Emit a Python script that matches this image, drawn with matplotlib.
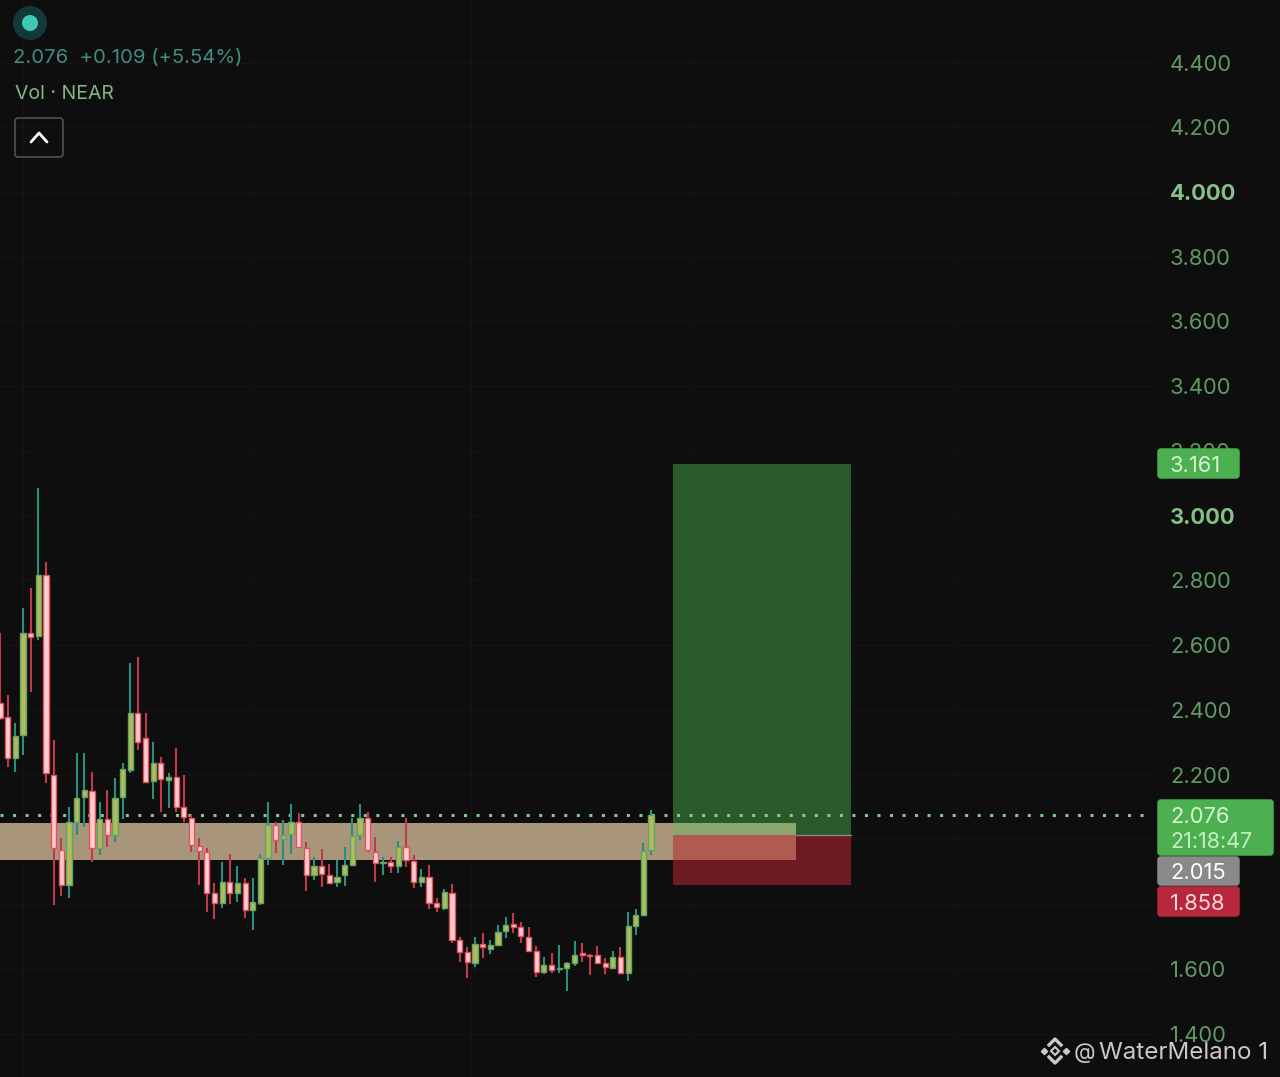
import matplotlib
matplotlib.use("Agg")
import matplotlib.pyplot as plt
from matplotlib.patches import Rectangle, FancyBboxPatch, Circle

opens = [2.422,2.378,2.252,2.323,2.638,2.629,2.817,2.199,1.968,1.859,2.054,2.131,2.150,1.974,2.063,2.014,2.131,2.215,2.391,2.314,
         2.181,2.236,2.184,2.193,2.100,2.066,1.980,1.961,1.835,1.804,1.869,1.835,1.866,1.782,1.804,1.943,2.045,2.001,2.017,2.054,
         1.974,1.890,1.918,1.890,1.869,1.890,1.921,2.014,2.066,1.961,1.927,1.930,1.918,1.977,1.934,1.869,1.884,1.804,1.788,1.835,
         1.689,1.652,1.618,1.677,1.662,1.674,1.717,1.739,1.730,1.699,1.655,1.591,1.612,1.600,1.603,1.618,1.649,1.643,1.643,1.618,
         1.603,1.637,1.587,1.733,1.767,1.967]
highs = [2.638,2.446,2.360,2.715,2.777,3.086,2.857,2.307,2.005,2.100,2.267,2.267,2.209,2.116,2.153,2.190,2.236,2.545,2.564,2.391,
         2.301,2.255,2.205,2.283,2.199,2.076,2.005,1.974,1.866,1.930,1.955,1.918,1.881,1.881,1.955,2.116,2.054,2.060,2.110,2.082,
         1.992,1.946,1.971,1.924,1.937,1.977,2.066,2.110,2.085,2.008,1.946,1.946,1.995,2.066,1.952,1.909,1.921,1.819,1.847,1.862,
         1.699,1.668,1.699,1.711,1.689,1.736,1.760,1.773,1.745,1.730,1.671,1.637,1.649,1.674,1.621,1.686,1.680,1.646,1.671,1.634,
         1.655,1.668,1.776,1.785,1.989,2.091]
lows = [2.369,2.224,2.209,2.261,2.456,2.616,2.175,1.798,1.825,1.819,2.014,2.039,1.930,1.952,1.977,1.992,2.063,2.205,2.277,2.175,
        2.125,2.085,2.097,2.085,2.054,1.961,1.859,1.776,1.754,1.788,1.801,1.807,1.757,1.720,1.798,1.921,1.958,1.921,1.955,1.974,
        1.841,1.875,1.853,1.862,1.853,1.856,1.918,1.998,1.961,1.869,1.890,1.896,1.896,1.915,1.850,1.853,1.785,1.776,1.782,1.680,
        1.621,1.572,1.606,1.634,1.646,1.671,1.696,1.711,1.680,1.652,1.575,1.584,1.587,1.587,1.532,1.609,1.621,1.581,1.615,1.584,
        1.600,1.584,1.563,1.705,1.764,1.952]
closes = [2.375,2.252,2.320,2.638,2.626,2.817,2.205,1.974,1.859,2.054,2.128,2.153,1.974,2.063,2.014,2.128,2.218,2.391,2.301,2.178,
          2.236,2.187,2.193,2.100,2.069,1.983,1.964,1.835,1.804,1.869,1.835,1.866,1.782,1.807,1.943,2.045,1.998,2.014,2.054,1.977,
          1.890,1.918,1.893,1.866,1.884,1.921,2.011,2.066,1.968,1.927,1.930,1.918,1.977,1.937,1.869,1.884,1.804,1.791,1.838,1.689,
          1.652,1.621,1.677,1.668,1.674,1.714,1.736,1.730,1.702,1.655,1.591,1.612,1.597,1.603,1.618,1.643,1.643,1.640,1.618,1.606,
          1.637,1.587,1.733,1.767,1.964,2.076]

tick_values = [4.4,4.2,4.0,3.8,3.6,3.4,3.2,3.0,2.8,2.6,2.4,2.2,1.6,1.4]
bold_ticks = [4.0,3.0]
grid_bars = [3, 32.6, 61.5, 90.5, 125]

last_price = 2.076
take_profit = 3.161
entry = 2.015
stop = 1.858
zone_top, zone_bottom = 2.051, 1.937
zone_end_bar = 103.9
box_start_bar, box_end_bar = 87.9, 111.1

BG = "#0e0e0f"
W, H = 1280, 1077
BAR_PX = 7.66
plt.rcParams["font.family"] = ["Inter", "DejaVu Sans"]

fig = plt.figure(figsize=(W/100, H/100), dpi=100, facecolor=BG)
ax = fig.add_axes([0, 0, 1, 1], facecolor=BG)
ax.set_xlim(0, W/BAR_PX)
ax.set_ylim(4 - (H-192)/323.7, 4 + 192/323.7)
ax.axis("off")

# grid
grid_right = 1155/BAR_PX
for t in tick_values + [2.0, 1.8]:
    ax.plot([0, grid_right], [t, t], color="#1a1113", lw=0.9, zorder=1)
for b in grid_bars:
    ax.axvline(b, color="#191113", lw=0.9, zorder=1)

# position box
ax.add_patch(Rectangle((box_start_bar, entry), box_end_bar-box_start_bar, take_profit-entry, fc="#2a5a2b", ec="none", zorder=2))
ax.add_patch(Rectangle((box_start_bar, stop), box_end_bar-box_start_bar, entry-stop, fc="#6e1a22", ec="none", zorder=2))
ax.plot([box_start_bar, box_end_bar], [entry, entry], color="#8f8f80", lw=0.9, zorder=2.1)

# zone
ax.add_patch(Rectangle((0, zone_bottom), box_start_bar, zone_top-zone_bottom, fc="#a8957a", ec="none", zorder=3))
ax.add_patch(Rectangle((box_start_bar, entry), zone_end_bar-box_start_bar, zone_top-entry, fc="#8aa66c", ec="none", zorder=3))
ax.add_patch(Rectangle((box_start_bar, zone_bottom), zone_end_bar-box_start_bar, entry-zone_bottom, fc="#b05a52", ec="none", zorder=3))

# last price line
ax.plot([0, 1152/BAR_PX], [last_price, last_price], color="#86c98a", lw=2.2,
        ls=(0, (1, 3.1)), dash_capstyle="butt", zorder=4)

# candles
for i, (o, h, l, c) in enumerate(zip(opens, highs, lows, closes)):
    up = c >= o
    ax.vlines(i, l, h, color="#2b8f7c" if up else "#c03a4a", lw=1.5, zorder=5)
    ax.bar(i, abs(c-o), bottom=min(o, c), width=0.68,
           color="#b4b95a" if up else "#ffccd0",
           edgecolor="#5aa867" if up else "#e4515f", linewidth=1.0, zorder=6)

# overlay in pixel coordinates for the interface pieces
ui = fig.add_axes([0, 0, 1, 1], facecolor="none")
ui.set_xlim(0, W); ui.set_ylim(H, 0); ui.axis("off")
FS = 15.8
DY = 2

def price_y(p):
    return 192 + (4-p)*323.7

for t in tick_values:
    bold = t in bold_ticks
    ui.text(1170, price_y(t)+DY, f"{t:.3f}", color="#85c087" if bold else "#5e9a62",
            fontsize=FS, fontweight="bold" if bold else "normal", va="center", ha="left", zorder=2)

def tag(x0, x1, y0, y1, color):
    ui.add_patch(FancyBboxPatch((x0+2, y0+2), x1-x0-4, y1-y0-4, boxstyle="round,pad=0,rounding_size=2",
                                mutation_aspect=1, fc=color, ec=color, lw=2.5, zorder=3))

tag(1157, 1240, 448, 479, "#4caf50")
ui.text(1170, 463.5+DY, f"{take_profit:.3f}", color="#d6f5d2", fontsize=FS, va="center", zorder=4)
tag(1157, 1240, 856, 886, "#8a8a8a")
ui.text(1170, 871+DY, f"{entry:.3f}", color="#ffffff", fontsize=FS, va="center", zorder=4)
tag(1157, 1240, 886, 917, "#b8283c")
ui.text(1170, 902+DY, f"{stop:.3f}", color="#ffd9dc", fontsize=FS, va="center", zorder=4)
tag(1157, 1274, 799, 856, "#4caf50")
ui.text(1170, 815+DY, f"{last_price:.3f}", color="#d6f5d2", fontsize=FS, va="center", zorder=5)
ui.text(1170, 840+DY, "21:18:47", color="#c6efc2", fontsize=FS*0.98, va="center", zorder=5)

# header
ui.add_patch(Circle((30, 23), 17, fc="#12393a", ec="none"))
ui.add_patch(Circle((30, 23), 8, fc="#3fc9b2", ec="none"))
ui.text(13, 58, "2.076  +0.109 (+5.54%)", color="#3f8d7c", fontsize=14.6, va="center")
ui.text(15, 94, "Vol · NEAR", color="#84b884", fontsize=14.0, va="center")
ui.add_patch(FancyBboxPatch((15, 118), 48, 39, boxstyle="round,pad=0,rounding_size=3",
                            fc="none", ec="#4f4f4f", lw=1.2))
ui.plot([31, 39, 47], [142, 133, 142], color="#ffffff", lw=2.0, solid_capstyle="round")

# watermark
wm = "#c9c9c9"
ui.plot([1044, 1055, 1066], [1051, 1051, 1051], ls="none", marker="D", ms=3.2, color=wm, zorder=6)
ui.plot([1055], [1051], ls="none", marker="D", ms=4.5, mfc=BG, mec=wm, mew=1.5, zorder=6)
ui.plot([1049, 1055, 1061], [1045, 1039, 1045], color=wm, lw=2.4, zorder=6)
ui.plot([1049, 1055, 1061], [1057, 1063, 1057], color=wm, lw=2.4, zorder=6)
ui.text(1074, 1053, "@", color=wm, fontsize=16, va="center", zorder=6)
ui.text(1099, 1053, "WaterMelano 1", color=wm, fontsize=17.4, va="center", zorder=6)

fig.savefig("out.png", dpi=100, facecolor=BG)
